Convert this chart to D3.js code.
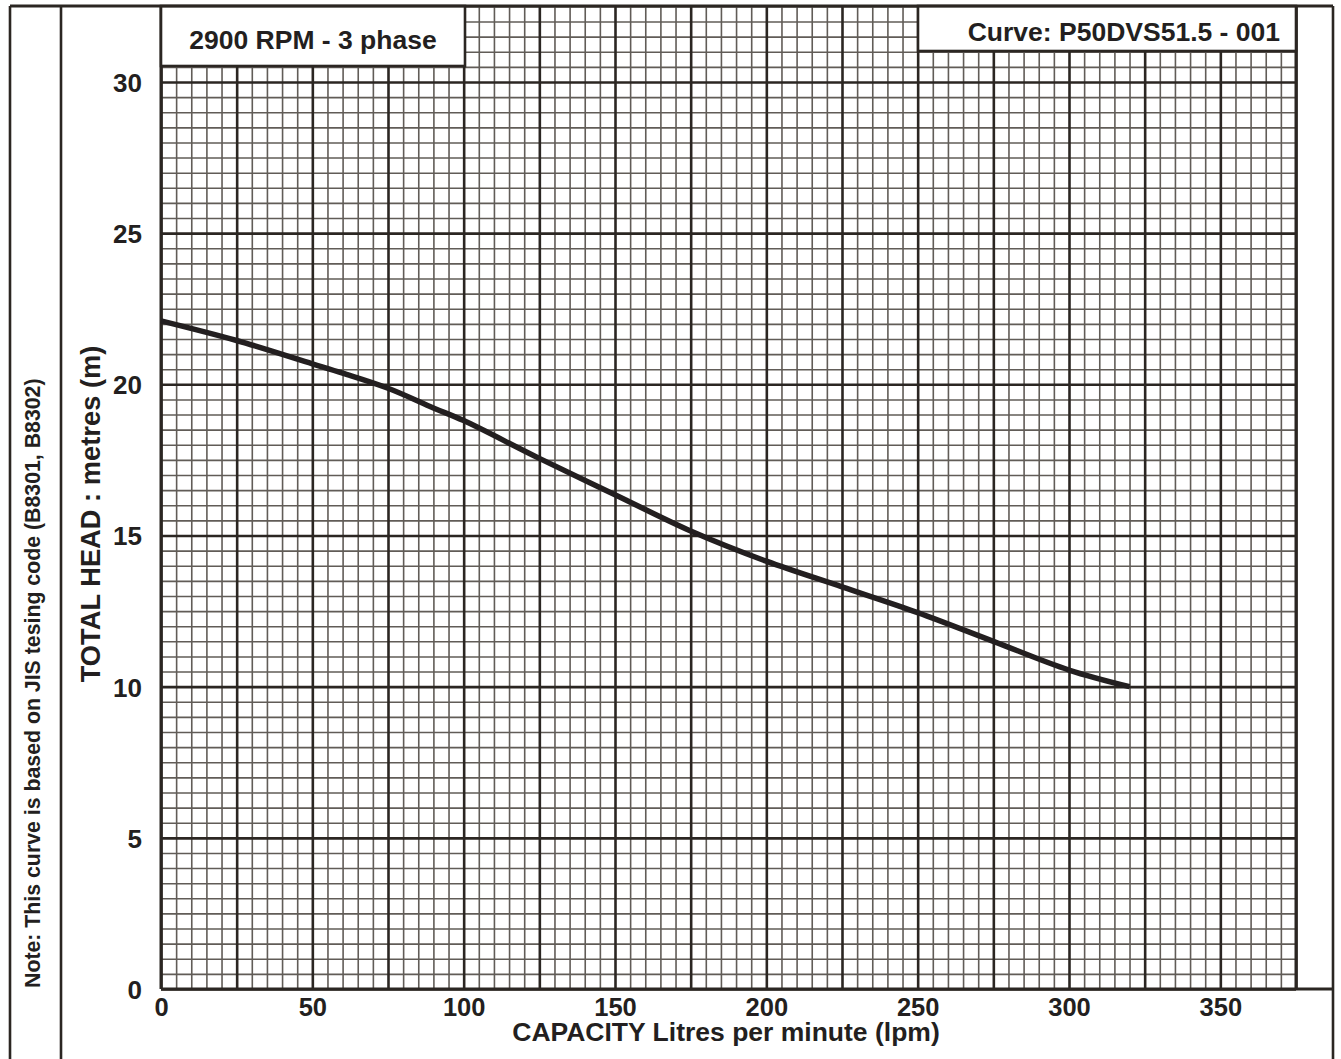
<!DOCTYPE html>
<html>
<head>
<meta charset="utf-8">
<script src="https://cdn.jsdelivr.net/npm/d3@7"></script>
<style>
  html, body { margin: 0; padding: 0; background: #fff; }
  svg { display: block; }
  text { font-family: "Liberation Sans", Arial, sans-serif; font-weight: bold; fill: #231f20; }
</style>
</head>
<body>
<svg id="chart" width="1341" height="1059"></svg>
<script>
// ---- data ----
const capacity = [0, 25, 50, 60, 75, 90, 100, 125, 150, 175, 200, 225, 250, 275, 300, 320];
const head     = [22.1, 21.45, 20.68, 20.37, 19.87, 19.22, 18.8, 17.55, 16.35, 15.15, 14.15, 13.3, 12.45, 11.5, 10.55, 10.0];
const xTickLabels = [0, 50, 100, 150, 200, 250, 300, 350];
const yTickLabels = [0, 5, 10, 15, 20, 25, 30];
const xDomain = [0, 375];
const yDomain = [0, 32.5];
const titleLeft = "2900 RPM - 3 phase";
const titleRight = "Curve: P50DVS51.5 - 001";
const xTitle = "CAPACITY Litres per minute (lpm)";
const yTitle = "TOTAL HEAD : metres (m)";
const note = "Note: This curve is based on JIS tesing code (B8301, B8302)";

// ---- layout ----
const svg = d3.select("#chart");
const L = 161, R = 1296, T = 6.4, B = 989;
const x = d3.scaleLinear().domain(xDomain).range([L, R]);
const y = d3.scaleLinear().domain(yDomain).range([B, T]);

const major = "#2b2622", minor = "#615c57";

const minorX = d3.range(0, 375 + 0.001, 5).filter(v => v % 25 !== 0);
const minorY = d3.range(0, 32.5 + 0.001, 0.5).filter(v => Math.abs(v % 5) > 1e-6);
const majorX = d3.range(0, 375 + 0.001, 25);
const majorY = d3.range(0, 32.5 + 0.001, 5);

const grid = svg.append("g");
grid.append("g").attr("transform", `translate(0,${B})`)
  .call(d3.axisBottom(x).tickValues(minorX).tickSize(-(B - T)).tickFormat(""))
  .call(g => g.select(".domain").remove())
  .call(g => g.selectAll("line").attr("stroke", minor).attr("stroke-width", 1.6));
grid.append("g").attr("transform", `translate(${L},0)`)
  .call(d3.axisLeft(y).tickValues(minorY).tickSize(-(R - L)).tickFormat(""))
  .call(g => g.select(".domain").remove())
  .call(g => g.selectAll("line").attr("stroke", minor).attr("stroke-width", 1.6));
grid.append("g").attr("transform", `translate(0,${B})`)
  .call(d3.axisBottom(x).tickValues(majorX).tickSize(-(B - T)).tickFormat(""))
  .call(g => g.select(".domain").remove())
  .call(g => g.selectAll("line").attr("stroke", major).attr("stroke-width", 2.6));
grid.append("g").attr("transform", `translate(${L},0)`)
  .call(d3.axisLeft(y).tickValues(majorY).tickSize(-(R - L)).tickFormat(""))
  .call(g => g.select(".domain").remove())
  .call(g => g.selectAll("line").attr("stroke", major).attr("stroke-width", 2.6));

// frame
const frame = svg.append("g").attr("stroke", major).attr("stroke-width", 2.6).attr("fill", "none");
frame.append("line").attr("x1", 10).attr("x2", 10).attr("y1", 6).attr("y2", 1059);
frame.append("line").attr("x1", 61).attr("x2", 61).attr("y1", 6).attr("y2", 1059);
frame.append("line").attr("x1", 1333).attr("x2", 1333).attr("y1", 6).attr("y2", 1059);
frame.append("line").attr("x1", L).attr("x2", L).attr("y1", 6).attr("y2", B).attr("stroke-width", 3);
frame.append("line").attr("x1", R).attr("x2", R).attr("y1", 6).attr("y2", B).attr("stroke-width", 3);
frame.append("line").attr("x1", L).attr("x2", 1333).attr("y1", B).attr("y2", B).attr("stroke-width", 3);

// curve
const line = d3.line().x(d => x(d[0])).y(d => y(d[1])).curve(d3.curveCatmullRom.alpha(0.5));
svg.append("path").datum(capacity.map((c, i) => [c, head[i]]))
  .attr("d", line).attr("fill", "none").attr("stroke", "#231f20")
  .attr("stroke-width", 5.5).attr("stroke-linecap", "butt");

// title boxes
svg.append("rect").attr("x", L).attr("y", 6).attr("width", 465 - L).attr("height", 60)
  .attr("fill", "#fff").attr("stroke", major).attr("stroke-width", 2.6);
svg.append("text").attr("x", (L + 465) / 2).attr("y", 49).attr("text-anchor", "middle")
  .attr("font-size", 26.5).text(titleLeft);
svg.append("rect").attr("x", 918).attr("y", 6).attr("width", R - 918).attr("height", 45)
  .attr("fill", "#fff").attr("stroke", major).attr("stroke-width", 2.6);
svg.append("text").attr("x", 1280).attr("y", 40.5).attr("text-anchor", "end")
  .attr("font-size", 26.5).text(titleRight);

// top frame over boxes
svg.append("line").attr("x1", 10).attr("x2", 1333).attr("y1", 6).attr("y2", 6)
  .attr("stroke", major).attr("stroke-width", 2.8);

// axes labels
svg.append("g").attr("transform", `translate(0,${B})`)
  .call(d3.axisBottom(x).tickValues(xTickLabels).tickSize(0).tickFormat(d3.format("d")))
  .call(g => g.select(".domain").remove())
  .call(g => g.selectAll("text").attr("font-size", 25.5).attr("font-family", null).attr("fill", "#231f20")
    .attr("y", 27).attr("dy", 0));
svg.append("g").attr("transform", `translate(142,0)`)
  .call(d3.axisLeft(y).tickValues(yTickLabels).tickSize(0).tickPadding(0).tickFormat(d3.format("d")))
  .call(g => g.select(".domain").remove())
  .call(g => g.selectAll("text").attr("font-size", 26).attr("font-family", null).attr("fill", "#231f20")
    .attr("dy", "0.36em"));

svg.append("text").attr("x", 726).attr("y", 1041).attr("text-anchor", "middle")
  .attr("font-size", 26.5).text(xTitle);
svg.append("text").attr("transform", "translate(100,514) rotate(-90)").attr("text-anchor", "middle")
  .attr("font-size", 27.3).text(yTitle);
svg.append("text").attr("transform", "translate(39.5,988) rotate(-90)").attr("text-anchor", "start")
  .attr("font-size", 21.3).text(note);
</script>
</body>
</html>
